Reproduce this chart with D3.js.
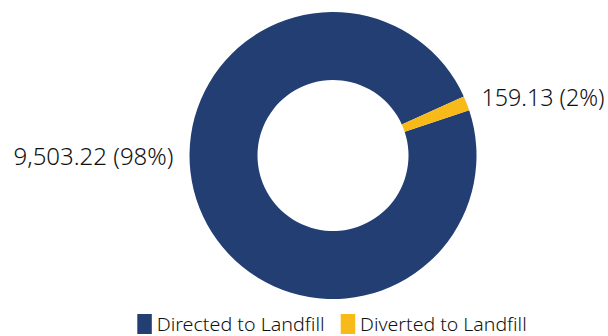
<!DOCTYPE html>
<html>
<head>
<meta charset="utf-8">
<script src="https://cdn.jsdelivr.net/npm/d3@7"></script>
<style>
  html, body { margin: 0; padding: 0; background: #fff; }
  svg { display: block; }
  text { font-family: "Noto Sans", sans-serif; font-weight: 300; fill: #111; }
</style>
</head>
<body>
<svg id="chart" width="608" height="336"></svg>
<script>
// Waste disposal totals
const categories = ["Directed to Landfill", "Diverted to Landfill"];
const values = [9503.22, 159.13];
const labels = ["9,503.22 (98%)", "159.13 (2%)"];
const colors = ["#223e73", "#f8ba19"];

const W = 608, H = 336;
const cx = 333, cy = 155.5;
const outerR = 143.5, innerR = 75.5;
const startDeg = 71.6;

const svg = d3.select("#chart");

const pie = d3.pie()
  .sort(null)
  .value(d => d)
  .startAngle(startDeg * Math.PI / 180)
  .endAngle((startDeg + 360) * Math.PI / 180);

const arcs = pie(values);
const arc = d3.arc().innerRadius(innerR).outerRadius(outerR);

const g = svg.append("g").attr("transform", `translate(${cx},${cy})`);

g.selectAll("path.slice")
  .data(arcs)
  .join("path")
  .attr("class", "slice")
  .attr("d", arc)
  .attr("fill", (d, i) => colors[i]);

// Data labels: the large slice is labelled on the left, the small one beside its arc
const labelFont = 23;
const small = arcs[1];
const midSmall = (small.startAngle + small.endAngle) / 2;
g.append("text")
  .attr("x", (outerR + 16) * Math.sin(midSmall))
  .attr("y", -(outerR + 16) * Math.cos(midSmall) + 1)
  .attr("dy", "0.35em")
  .attr("font-size", labelFont)
  .attr("text-anchor", "start")
  .attr("textLength", 123)
  .attr("lengthAdjust", "spacingAndGlyphs")
  .text(labels[1]);

g.append("text")
  .attr("x", -outerR - 16)
  .attr("y", 1)
  .attr("dy", "0.35em")
  .attr("font-size", labelFont)
  .attr("text-anchor", "end")
  .attr("textLength", 160)
  .attr("lengthAdjust", "spacingAndGlyphs")
  .text(labels[0]);

// Legend: a key swatch followed by its category name, centred under the ring
const legendFont = 17.5;
const keyW = 14.5, keyH = 20, keyGap = 19.4, itemGap = 16;
const textW = [168, 166.6];
const itemX = [];
let x = 0;
textW.forEach(w => { itemX.push(x); x += keyGap + w + itemGap; });
const totalW = x - itemGap;

const legend = svg.append("g")
  .attr("transform", `translate(${cx - totalW / 2 - 1},0)`);

const items = legend.selectAll("g.item")
  .data(categories)
  .join("g")
  .attr("class", "item")
  .attr("transform", (d, i) => `translate(${itemX[i]},0)`);

items.append("rect")
  .attr("width", keyW)
  .attr("height", keyH)
  .attr("y", 314)
  .attr("fill", (d, i) => colors[i]);

items.append("text")
  .attr("x", keyGap)
  .attr("y", 324.5)
  .attr("dy", "0.35em")
  .attr("font-size", legendFont)
  .attr("textLength", (d, i) => textW[i])
  .attr("lengthAdjust", "spacingAndGlyphs")
  .text(d => d);
</script>
</body>
</html>
